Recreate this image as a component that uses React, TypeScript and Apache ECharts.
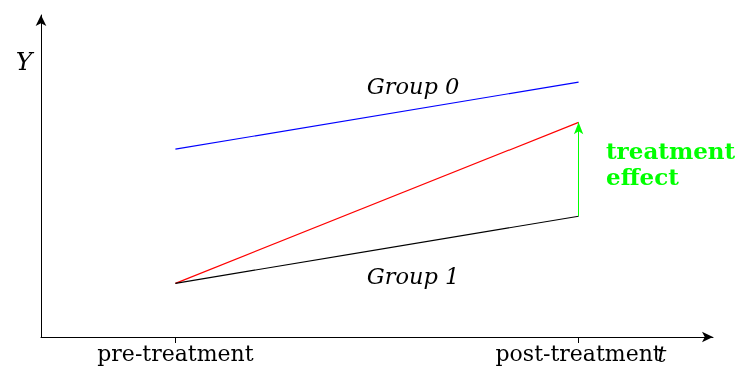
import React, { useEffect, useRef } from "react";
import * as echarts from "echarts";

const periods = [1, 4];
const periodLabels = ["pre-treatment", "post-treatment"];
const group0 = [3.5, 4.75];
const group1 = [1.0, 2.25];
const counterfactual = [1.0, 4.0];
const effectFrom = 2.25;
const effectTo = 4.0;

const serif = "DejaVu Serif";

export default function App() {
  const ref = useRef<HTMLDivElement>(null);
  useEffect(() => {
    const chart = echarts.init(ref.current!, null, { renderer: "svg" });
    const pts = (ys: number[]) => periods.map((x, i) => [x, ys[i]]);
    const txt = (extra: any) => ({ fontFamily: serif, fill: "#000", ...extra });
    chart.setOption({
      animation: false,
      grid: { left: 41, right: 25, top: 15, bottom: 31 },
      xAxis: {
        type: "value",
        min: 0,
        max: 5,
        splitLine: { show: false },
        axisLine: {
          lineStyle: { color: "#000", width: 1 },
          symbol: ["none", "arrow"],
          symbolSize: [8, 11],
        },
        axisTick: { show: true, customValues: periods, length: 6, lineStyle: { color: "#000" } },
        axisLabel: {
          customValues: periods,
          formatter: (v: number) => periodLabels[periods.indexOf(v)] ?? "",
          color: "#000",
          fontFamily: serif,
          fontSize: 22,
          margin: 5,
        },
      },
      yAxis: {
        type: "value",
        min: 0,
        max: 6,
        splitLine: { show: false },
        axisLine: {
          show: true,
          lineStyle: { color: "#000", width: 1 },
          symbol: ["none", "arrow"],
          symbolSize: [8, 11],
        },
        axisTick: { show: false },
        axisLabel: { show: false },
      },
      series: [
        {
          type: "line",
          data: pts(group0),
          showSymbol: false,
          lineStyle: { color: "#0000ff", width: 1.2 },
        },
        {
          type: "line",
          data: pts(counterfactual),
          showSymbol: false,
          lineStyle: { color: "#ff0000", width: 1.2 },
        },
        {
          type: "line",
          data: pts(group1),
          showSymbol: false,
          lineStyle: { color: "#000000", width: 1.2 },
          markLine: {
            silent: true,
            symbol: ["none", "arrow"],
            symbolSize: [7, 12],
            label: { show: false },
            lineStyle: { color: "#00ff00", width: 1, type: "solid" },
            data: [[{ coord: [periods[1], effectFrom] }, { coord: [periods[1], effectTo] }]],
          },
        },
      ],
      graphic: [
        {
          type: "text",
          x: 24,
          y: 61,
          style: txt({ text: "Y", fontStyle: "italic", fontSize: 25, align: "center", verticalAlign: "middle" }),
        },
        {
          type: "text",
          x: 662,
          y: 354,
          style: txt({ text: "t", fontStyle: "italic", fontSize: 22, align: "center", verticalAlign: "middle" }),
        },
        {
          type: "text",
          x: 413,
          y: 86,
          style: txt({ text: "Group 0", fontStyle: "italic", fontSize: 22.5, align: "center", verticalAlign: "middle" }),
        },
        {
          type: "text",
          x: 413,
          y: 276,
          style: txt({ text: "Group 1", fontStyle: "italic", fontSize: 22.5, align: "center", verticalAlign: "middle" }),
        },
        {
          type: "text",
          x: 606,
          y: 163,
          style: txt({
            text: "treatment\neffect",
            fontWeight: "bold",
            fontSize: 23,
            lineHeight: 26,
            fill: "#00ff00",
            verticalAlign: "middle",
          }),
        },
      ],
    });
    return () => chart.dispose();
  }, []);
  return (
    <div
      ref={ref}
      style={{ position: "fixed", left: 0, top: 0, width: 738, height: 368 }}
    />
  );
}
